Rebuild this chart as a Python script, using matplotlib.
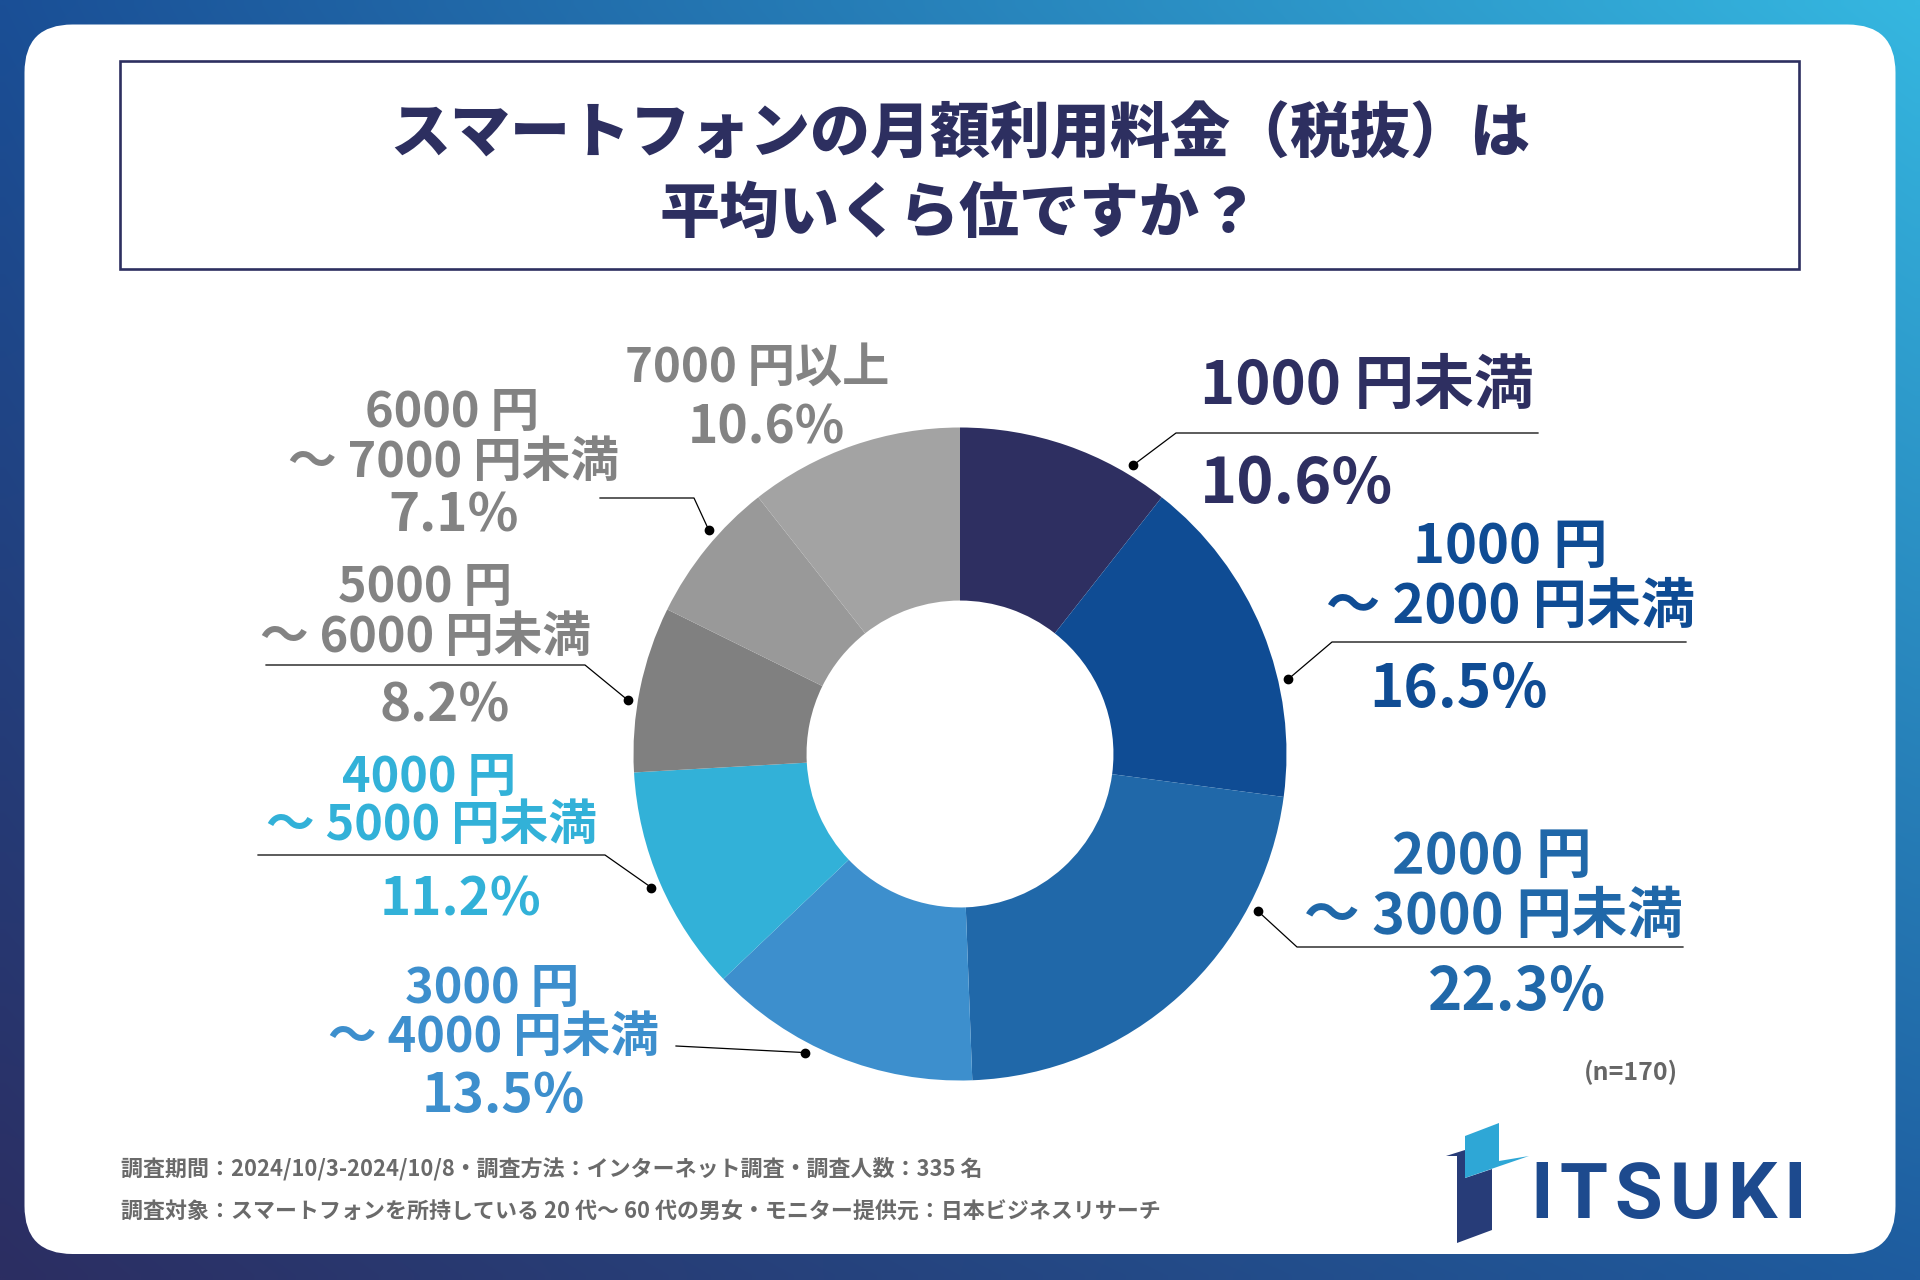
import numpy as np
import matplotlib.pyplot as plt
from matplotlib.patches import FancyBboxPatch, Rectangle, Polygon

plt.rcParams['font.family'] = ['Noto Sans CJK JP', 'DejaVu Sans']

# data
range_top = ['1000 円未満', '1000 円', '2000 円', '3000 円', '4000 円',
             '5000 円', '6000 円', '7000 円以上']
range_bottom = ['', '〜 2000 円未満', '〜 3000 円未満', '〜 4000 円未満',
                '〜 5000 円未満', '〜 6000 円未満', '〜 7000 円未満', '']
shares = [10.6, 16.5, 22.3, 13.5, 11.2, 8.2, 7.1, 10.6]

title_lines = ['スマートフォンの月額利用料金（税抜）は', '平均いくら位ですか？']
note_lines = ['調査期間：2024/10/3-2024/10/8・調査方法：インターネット調査・調査人数：335 名',
              '調査対象：スマートフォンを所持している 20 代〜 60 代の男女・モニター提供元：日本ビジネスリサーチ']
sample_note = '(n=170)'
logo_text = 'ITSUKI'

# styles
wedge_colors = ['#2e2f61', '#0f4c94', '#2068a9', '#3d8fcd', '#32b1d8',
                '#808080', '#999999', '#a3a3a3']
text_colors = ['#2e2f61', '#0f4c94', '#2068a9', '#3d8fcd', '#32b1d8',
               '#838383', '#838383', '#838383']
navy = '#2d2f60'

# layout (pixels, y down)
W, H = 1920, 1280
cx, cy, R = 960, 754, 326.5
hole = 0.47
# per label: x / baseline of top line, x / baseline of bottom line,
# pct x / baseline, ha, name size, pct size, leader path (ends at dot), dot position in wedge
label_layout = [
    (1200, 404, None, None, 1200, 503, 'left', 43, 45.5, [(1538, 433), (1176, 433)], 0.81),
    (1510, 563, 1510, 623, 1458, 707, 'center', 39, 42, [(1686, 642), (1332, 642)], 0.657),
    (1492, 873, 1493, 933, 1517, 1010, 'center', 40, 42, [(1683, 947), (1297, 947)], 0.252),
    (492, 1003, 493, 1052, 503, 1112, 'center', 35, 38.5, [(676, 1046)], 0.608),
    (429, 792, 431, 840, 460, 915, 'center', 35, 38, [(258, 855), (605, 855)], 0.5),
    (425, 602, 426, 652, 445, 722, 'center', 35, 38, [(266, 665), (585, 665)], 0.421),
    (452, 427, 453, 477, 454, 532, 'center', 35, 38, [(600, 498), (694, 498)], 0.603),
    (757, 382, None, None, 766, 443, 'center', 34, 37, None, None),
]

fig = plt.figure(figsize=(19.2, 12.8), dpi=100)

# background gradient
bg = fig.add_axes([0, 0, 1, 1], zorder=0)
c_tl = np.array([0x1a, 0x4f, 0x96]) / 255
c_tr = np.array([0x35, 0xb7, 0xe0]) / 255
c_bl = np.array([0x2c, 0x2e, 0x62]) / 255
c_br = np.array([0x1e, 0x5c, 0x9f]) / 255
u = np.linspace(0, 1, 192)[None, :, None]
v = np.linspace(0, 1, 128)[:, None, None]
img = (1 - v) * ((1 - u) * c_tl + u * c_tr) + v * ((1 - u) * c_bl + u * c_br)
bg.imshow(img, extent=(0, W, H, 0), aspect='auto', interpolation='bilinear')
bg.set_xlim(0, W)
bg.set_ylim(H, 0)
bg.axis('off')
bg.add_patch(FancyBboxPatch((24.5, 24.5), 1871, 1229.5,
                            boxstyle='round,pad=0,rounding_size=48',
                            facecolor='white', edgecolor='none'))
bg.add_patch(Rectangle((120, 60.5), 1679, 208.5, fill=False,
                       edgecolor=navy, linewidth=1.9))

# donut
pax = fig.add_axes([(cx - R) / W, 1 - (cy + R) / H, 2 * R / W, 2 * R / H], zorder=1)
wedges, _ = pax.pie(shares, colors=wedge_colors, startangle=90, counterclock=False,
                    radius=1, wedgeprops=dict(width=1 - hole, linewidth=0))
pax.set_xlim(-1, 1)
pax.set_ylim(-1, 1)
pax.set_aspect('equal')
pax.axis('off')

ov = fig.add_axes([0, 0, 1, 1], zorder=2)
ov.patch.set_alpha(0)
ov.set_xlim(0, W)
ov.set_ylim(H, 0)
ov.axis('off')

# title
ov.text(960, 152, title_lines[0], ha='center', va='baseline', fontsize=43.2,
        fontweight='black', color=navy)
ov.text(960, 232, title_lines[1], ha='center', va='baseline', fontsize=43.2,
        fontweight='black', color=navy)

# labels and leaders
for i, (w, top, bottom, val) in enumerate(zip(wedges, range_top, range_bottom, shares)):
    x1, y1, x2, y2, px, py, ha, fs, pfs, path, frac = label_layout[i]
    col = text_colors[i]
    ov.text(x1, y1, top, ha=ha, va='baseline', fontsize=fs, fontweight='bold', color=col)
    if bottom:
        ov.text(x2, y2, bottom, ha=ha, va='baseline', fontsize=fs, fontweight='bold', color=col)
    ov.text(px, py, f'{val:.1f}%', ha=ha, va='baseline', fontsize=pfs,
            fontweight='bold', color=col)
    if path is not None:
        a = np.radians(w.theta2 - frac * (w.theta2 - w.theta1))
        dx = cx + 1.03 * R * np.cos(a)
        dy = cy - 1.03 * R * np.sin(a)
        xs = [p[0] for p in path] + [dx]
        ys = [p[1] for p in path] + [dy]
        ov.plot(xs, ys, color='black', lw=0.9)
        ov.plot(dx, dy, 'o', ms=6, color='black')

ov.text(1678, 1080, sample_note, ha='right', va='baseline', fontsize=18,
        fontweight='bold', color='#666666')

# footnotes
ov.text(121, 1175, note_lines[0], ha='left', va='baseline', fontsize=15.8,
        fontweight='bold', color='#6a6a6a')
ov.text(121, 1219, note_lines[1], ha='left', va='baseline', fontsize=15.8,
        fontweight='bold', color='#6a6a6a')

# logo
ov.add_patch(Polygon([(1446, 1156), (1465, 1150), (1465, 1178), (1492, 1169),
                      (1492, 1230), (1457, 1243), (1457, 1156)],
                     closed=True, facecolor='#273c78', edgecolor='none'))
ov.add_patch(Polygon([(1465, 1136), (1499, 1123), (1499, 1161), (1529, 1156), (1465, 1178)],
                     closed=True, facecolor='#2ea7d6', edgecolor='none'))
# spaced-out letters
renderer = fig.canvas.get_renderer()
lx = 1530
for ch in logo_text:
    t = ov.text(lx, 1218, ch, ha='left', va='baseline', fontsize=56, fontweight='bold',
                color='#1d4a8e', family=['Roboto', 'DejaVu Sans'])
    lx += t.get_window_extent(renderer).width + 7

fig.savefig('out.png', dpi=100)
